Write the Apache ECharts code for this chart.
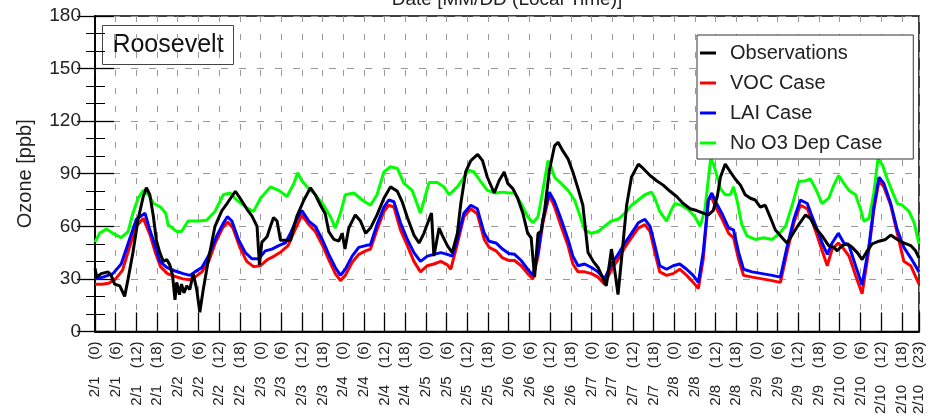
<!DOCTYPE html>
<html>
<head>
<meta charset="utf-8">
<script src="https://cdn.jsdelivr.net/npm/echarts@6/dist/echarts.min.js"></script>
<style>
html,body{margin:0;padding:0;background:#fff;}
#chart{width:933px;height:417px;}
</style>
</head>
<body>
<div id="chart"></div>
<script>
// ---- Data (hours since 2/1 00:00 local time, ozone in ppb) ----
const seriesNames = ['Observations', 'VOC Case', 'LAI Case', 'No O3 Dep Case'];
const yTicks = [0, 30, 60, 90, 120, 150, 180];
const startMonth = 2;

const obsHours = [0,0.5,1.8,3.8,4.7,5.7,7.2,8.6,9.6,11,12.5,14,14.9,15.9,16.9,17.8,18.8,19.8,20.8,21.7,22.5,23.2,23.7,24.5,25.1,25.8,26.6,27.5,28.5,29.5,30.4,31.4,32.9,34.8,36.8,38.3,40.7,42.1,44,45.5,47,47.7,48.4,49.9,50.9,51.8,52.8,53.8,55.2,56.7,57.7,58.6,60.6,62.5,63.9,65.4,66.8,67.8,69.3,70.7,71.7,72.5,73.6,75.5,77,78.5,79.9,81.8,83.8,85.7,87.7,89.1,90.6,92.5,94,95.4,96.9,97.6,98.3,99.1,99.8,100.7,102.2,103.6,105.1,106.1,107.5,109,111,112.4,113.8,115.8,117.2,118.7,119.7,121.2,122.6,124.1,125.5,126.5,127.5,128.5,129.4,130.4,131.8,133.3,134.3,135.7,137.2,138.6,140.1,141.5,143,144.5,145.9,147.4,148.3,149.8,150.8,151.7,152.7,154.2,155.6,157.6,159,161,162.9,164.8,166.8,168.7,170.6,172.6,174.5,176.4,177.9,179.3,180.5,181.4,182.8,184.3,185.7,187.2,188.6,190.1,191.5,193,194.4,195.9,197.3,199.3,200.7,202.2,204.1,206.1,207.5,209,210.9,212.8,214.3,215.3,216.7,218.2,219.6,221.1,222.5,224,225.4,227.4,229.3,230.8,232.7,234.6,236.6,238,239];
const obsValues = [36,31,33,34,32,27,26,20,30,45,64,77,82,78,66,52,45,40,41,38,32,18,28,21,27,22,26,24,33,24,11,24,41,60,69,73,80,76,70,66,60,38,51,54,60,65,63,52,52,52,60,66,75,82,78,72,67,57,52.5,51.5,56,47,59,66.5,63,56,59,66.5,76,82.5,80,74,65,55,50.5,56,64,67.5,43,51.5,59,55,49,45,56,73,91,97.5,101,97.5,88,79,86,91,84.5,81.5,76,67.5,56,53.5,31,56,57,69,92,106,108,103,98.5,91,81.5,72,45,40,36.5,30,26,47,34,21,41,72,88,95.5,93,89,86,83.5,80,77,73,70,69,67.5,66.5,69,77,88,95.5,91,87,83.5,78,76,75,71,72,65,58,53.5,50.5,55,61,66.5,64.5,59,54.5,49,48,46,49,50,48,45,41,46,50,51.5,52.5,55,52.5,50.5,49,46,42];

const vocHours = [0,2,4,6,8,10,12,14,16,17.5,19,21,23,25.5,27.5,29,31,33,35,37,38.5,40,42,44,46,48,50,52,54,56,58,60,62,63.9,65.9,67.8,69.7,71.2,72.6,74.6,76.5,78.5,79.9,81.8,83.8,85.2,86.7,88.6,90.6,92.5,94.4,96.4,98.3,100.3,102.2,103.2,105.1,107,109,110.9,112.9,114.3,116.3,118.2,120,121.7,123.6,125.5,127,128.5,129.9,131.8,133.3,135.2,137.2,138.6,140.1,142,144,145.9,147.8,149.8,151.7,153.7,155.6,157.6,159.5,161,162.4,163.8,165.8,167.7,169.6,171.6,173.5,175,176.4,177.9,178.7,180,181.8,183.8,185.2,186.7,188.1,190.6,193.5,196.4,198.8,200.7,202.7,204.6,206.6,208,209.5,210.9,212.4,213.8,215.6,217.2,218.7,220.6,222.5,224.5,225.9,227.4,228.8,230.8,232.7,234.6,236.6,239];
const vocValues = [27,27,27.5,30,35,48,60,64.5,55,45,37,33,31.5,30,29.5,31,34,40,51,59,62.5,59,48,40,37,37.5,41,43,45.5,49,58,66.5,61,57,49.5,41,33,29,32,39.5,44,46,47,58,68.5,72,71,58,49,40,34,37.5,38.5,40,38,35.5,50,65.5,70,67,52.5,48,46,42,40.5,40.5,37.5,33,30,43,62,78,71,60,49,38.5,34,34,33,31,27,35.5,41,48,53.5,59,61,57,45,34,32,33,35.5,32,28,24.5,41,75,77,71,64.5,56,53.5,41,32,31,30,29,28,45,62,72,70,63,54.5,46,37.5,47,50.5,47,43,32,21.5,47,69.5,86,82.5,72,56,40,37.5,27];

const laiHours = [0,2.3,5.2,7.6,10,12,14.5,15.9,17.4,18.8,20.8,23.2,25.6,27.5,29,31,32.9,35.3,37.3,38.4,39.7,41.6,43.6,45.5,47.5,49.4,51.3,53.3,55.2,56.7,58.6,60,62,63.9,65.9,67.8,69.7,71.2,72.6,74.6,76.5,78.5,79.9,81.8,83.8,85.2,86.7,88.6,90.6,92.5,94.4,96.4,98.3,100.3,102.2,103.6,105.1,107,109,110.9,112.9,114.3,116.3,118.2,120,121.7,123.6,125.5,127,128.5,129.9,131.8,133.3,135.2,137.2,138.6,140.1,142,144,145.9,147.8,149.8,151.7,153.7,155.6,157.6,159.5,161,162.4,163.8,165.8,167.7,169.6,171.6,173.5,175,176.4,177.9,178.9,180,181.8,183.8,185.2,186.7,188.1,190.6,193.5,196.4,198.8,200.7,202.7,204.6,206.6,208,209.5,210.9,212.4,213.8,215.6,217.2,218.7,220.6,222.5,224.5,225.9,227.4,228.8,230.8,232.7,234.6,236.6,239];
const laiValues = [30,31,33,38.5,52.5,64,67.5,58,49,40,36.5,34.5,33,32,34,36.5,43,54.5,62,65.5,63,52.5,45,41.5,41.5,46,47,49,50.5,56,64.5,69,63,60,52.5,44,36.5,32,35.5,43,48,49,49.5,61,71,75,74,62,52.5,45,40,43,44,45,44,43,52.5,67.5,72,70,56,51.5,50.5,47,44.5,44,40.5,35.5,32,45,64,79.5,74,64,52.5,43,37.5,38.5,36.5,34,30,38.5,44,50.5,56,62,64,60,49,37.5,35.5,37.5,38.5,35.5,32,28,45,75,79,74,67.5,59,58,45,35.5,34,33,32,31,48,64,75,73,65.5,58,50.5,44,50.5,56,50.5,49,37.5,26.5,49,71,88,84.5,73,58,48,42,34];

const noDepHours = [0,1.3,3.3,5.2,7.6,9.6,11,12.5,14,15.5,17,19,20.5,21.2,23.7,25.1,27,30,32.4,34.8,37.2,39.2,41.1,44,46,48,50.9,53.3,55.7,57.7,58.8,60,61.5,63.9,66.3,68.3,69.7,71.2,72.6,75.1,77.5,79.9,81.8,83.8,85.7,87.7,89.6,92,94.4,96.9,99.3,101.2,102.7,105.1,107,108.5,109.9,111.9,113.8,116.2,118.2,120.1,121.7,123.6,125.5,127,128.5,129.9,131.4,132.3,133.3,135.2,137.2,139.1,140.6,142,144,145.9,147.8,149.8,151.7,153.7,155.6,157.6,159.5,161.4,162.4,163.8,165.8,167.2,168.2,170.1,172.1,174,175.5,176.9,178.6,179.5,180.5,181.4,182.8,184.3,185.2,186.2,187.6,189.1,191.5,194,196.4,198.3,200.3,202.2,204.1,206.1,207.5,209,210.9,212.8,214.3,215.7,217.2,218.7,220.6,222.1,223,224.5,225.9,227.1,228.4,229.8,231.3,232.7,234.2,236.1,237.6,239];
const noDepValues = [51,56,58.5,56,53.5,57,67.5,76,80.5,78,73,71,67.5,61,57,57,63,63,63.5,68.5,78,79,75,70.5,68.5,76,82.5,80.5,77,84.5,90.5,86,82.5,78,72,65.5,59,67.5,78,79,75,72,78,91,94,93,84.5,80.5,67.5,85,85,82.5,78,82.5,88,92,91,85.5,80.5,79,79.5,79,79,73,65.5,62,65.5,80.5,97.5,94,88,84.5,80.5,75,66.5,58,56,57,60,63,64,67.5,72,75,78,79.5,76,68.5,63,69.5,73,72,69.5,65.5,60,69.5,99,95,88,81.5,78,78,82.5,75,61,54.5,52.5,53.5,52.5,55.5,60,72,85.5,86,87,81.5,73,76,83.5,89,84.5,80.5,78,69.5,63,64.5,79,98.5,95,87,79.5,73,72,68.5,62,50];

// ---- Chart ----
const zip = (h, v) => h.map((x, i) => [x, v[i]]);
const font = 'Liberation Sans, Arial, Helvetica, sans-serif';
const chart = echarts.init(document.getElementById('chart'), null, {renderer: 'canvas'});

function hourLabel(v) {
  const day = Math.floor(v / 24) + 1;
  const hr = Math.round(v - (day - 1) * 24);
  return startMonth + '/' + day + '    (' + hr + ')';
}

const lineSeries = (name, h, v, color, z) => ({
  name, type: 'line', data: zip(h, v), showSymbol: false, symbol: 'none',
  xAxisIndex: 0, yAxisIndex: 0, z,
  lineStyle: {color, width: 3}, itemStyle: {color}, animation: false
});

chart.setOption({
  animation: false,
  textStyle: {fontFamily: font},
  grid: {left: 95, right: 14, top: 16, bottom: 83, show: true, borderColor: '#000', borderWidth: 1.5, backgroundColor: 'transparent'},
  xAxis: [{
    type: 'value', min: 0, max: 239, interval: 6, position: 'bottom',
    axisLine: {show: true, lineStyle: {color: '#000', width: 1.5}},
    axisTick: {show: true, inside: true, length: 19, lineStyle: {color: '#000', width: 1.3}},
    splitLine: {show: true, lineStyle: {color: '#999', width: 1, type: [6, 12]}},
    axisLabel: {rotate: 90, fontSize: 15, color: '#222', margin: 10, fontFamily: font, formatter: hourLabel, hideOverlap: false, showMinLabel: true, showMaxLabel: true}
  }, {
    type: 'value', min: 0, max: 239, interval: 6, position: 'top',
    axisLine: {show: true, lineStyle: {color: '#000', width: 1.5}},
    axisTick: {show: false}, axisLabel: {show: false}, splitLine: {show: false}
  }],
  yAxis: [{
    type: 'value', min: yTicks[0], max: yTicks[yTicks.length - 1], interval: 30, position: 'left',
    name: 'Ozone [ppb]', nameLocation: 'middle', nameGap: 60, nameRotate: 90,
    nameTextStyle: {fontSize: 20, color: '#222', fontFamily: font},
    axisLine: {show: true, lineStyle: {color: '#000', width: 1.5}},
    axisTick: {show: true, inside: true, length: 19, lineStyle: {color: '#000', width: 1.3}},
    minorTick: {show: true, splitNumber: 3, length: 10, lineStyle: {color: '#000', width: 1}},
    splitLine: {show: true, lineStyle: {color: '#999', width: 1, type: [7, 11]}},
    axisLabel: {fontSize: 19, color: '#222', margin: 14, fontFamily: font}
  }, {
    type: 'value', min: yTicks[0], max: yTicks[yTicks.length - 1], interval: 30, position: 'right',
    axisLine: {show: true, lineStyle: {color: '#000', width: 1.5}},
    axisTick: {show: true, inside: true, length: 18, lineStyle: {color: '#000', width: 1.3}},
    minorTick: {show: true, splitNumber: 3, length: 9, lineStyle: {color: '#000', width: 1}},
    splitLine: {show: false}, axisLabel: {show: false}
  }],
  legend: {
    data: seriesNames, orient: 'vertical', left: 697, top: 35,
    backgroundColor: '#fff', borderColor: '#333', borderWidth: 1, borderRadius: 0,
    padding: [7, 31, 5, 3], itemGap: 8, itemWidth: 16, itemHeight: 3, icon: 'rect',
    textStyle: {fontSize: 20, color: '#222', fontFamily: font, lineHeight: 22, padding: [0, 0, 0, 9]},
    selectedMode: false, z: 10
  },
  graphic: [
    {type: 'group', left: 102, top: 25, z: 10, children: [
      {type: 'rect', shape: {x: 0, y: 0, width: 131, height: 39}, style: {fill: '#fff', stroke: '#444', lineWidth: 1}},
      {type: 'text', x: 65.5, y: 20, style: {text: 'Roosevelt', font: '25px ' + font, fill: '#111', textAlign: 'center', textVerticalAlign: 'middle'}}
    ]},
    {type: 'text', x: 507, y: -10, z: 10, style: {text: 'Date [MM/DD (Local Time)]', font: '19px ' + font, fill: '#222', textAlign: 'center', textVerticalAlign: 'top'}}
  ],
  series: [
    lineSeries('No O3 Dep Case', noDepHours, noDepValues, '#00ff00', 2),
    lineSeries('VOC Case', vocHours, vocValues, '#ff0000', 3),
    lineSeries('LAI Case', laiHours, laiValues, '#0000ff', 4),
    lineSeries('Observations', obsHours, obsValues, '#000000', 5)
  ]
});
</script>
</body>
</html>
